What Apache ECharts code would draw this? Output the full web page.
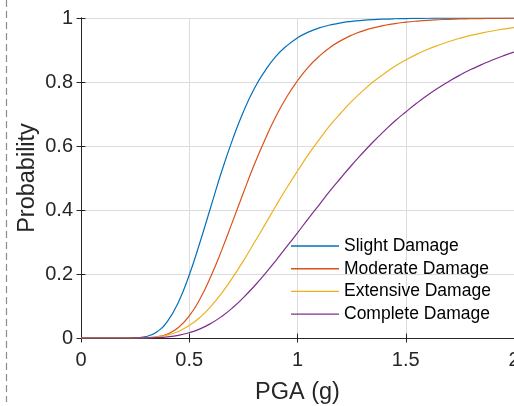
<!DOCTYPE html>
<html>
<head>
<meta charset="utf-8">
<script src="https://cdn.jsdelivr.net/npm/echarts@6/dist/echarts.min.js"></script>
<style>
html,body{margin:0;padding:0;background:#fff;}
#chart{width:514px;height:406px;}
</style>
</head>
<body>
<div id="chart"></div>
<script>
// PGA (g) sample points
var pga = [0,0.05,0.1,0.15,0.2,0.25,0.3,0.35,0.4,0.45,0.5,0.55,0.6,0.65,0.7,0.75,0.8,0.85,0.9,0.95,1.0,
           1.05,1.1,1.15,1.2,1.25,1.3,1.35,1.4,1.45,1.5,1.55,1.6,1.65,1.7,1.75,1.8,1.85,1.9,1.95,2.0];
var slight = [0,0,0,0,0,0.0006,0.0045,0.0189,0.0528,0.112,0.197,0.300,0.411,0.521,0.620,0.707,0.779,0.835,0.880,0.913,0.938,
              0.956,0.969,0.978,0.985,0.9895,0.9926,0.9949,0.9965,0.9976,0.9983,0.9988,0.9992,0.9994,0.9996,0.9997,0.9998,0.9999,0.9999,1.0,1.0];
var moderate = [0,0,0,0,0,0.0001,0.0007,0.0036,0.0127,0.0329,0.069,0.1227,0.1927,0.2746,0.3637,0.4539,0.5414,0.6205,0.6922,0.7532,0.8039,
                0.8466,0.8804,0.908,0.9293,0.9462,0.9591,0.9691,0.9767,0.9827,0.9869,0.9902,0.9928,0.9946,0.996,0.997,0.9977,0.9983,0.9988,0.9991,0.9993];
var extensive = [0,0,0,0,0,0.0002,0.0009,0.0034,0.0093,0.0205,0.0387,0.0646,0.0988,0.1405,0.1885,0.2411,0.2976,0.3544,0.4126,0.4686,0.5219,
                 0.573,0.6198,0.6641,0.7031,0.7393,0.7715,0.8006,0.8258,0.8491,0.8686,0.8864,0.9017,0.915,0.9266,0.9367,0.9455,0.9527,0.9593,0.965,0.9698];
var complete = [0,0,0,0,0,0.0001,0.0004,0.0013,0.0037,0.0084,0.0165,0.0286,0.0456,0.0675,0.0944,0.1262,0.1617,0.2005,0.2420,0.2852,0.3287,
                0.3731,0.4161,0.4594,0.5,0.5398,0.5773,0.6133,0.6464,0.6781,0.7065,0.7335,0.7586,0.7815,0.8023,0.8215,0.8388,0.8542,0.8688,0.8818,0.8933];
var seriesNames = ['Slight Damage','Moderate Damage','Extensive Damage','Complete Damage'];
var seriesColors = ['#0072BD','#D95319','#EDB120','#7E2F8E'];
var seriesValues = [slight, moderate, extensive, complete];

var FONT = '"Liberation Sans", Arial, Helvetica, sans-serif';
var chart = echarts.init(document.getElementById('chart'), null, {renderer:'canvas'});

function pairs(arr){ return pga.map(function(x,i){ return [x, arr[i]]; }); }

var axisLineStyle = {color:'#262626', width:1};
var series = seriesNames.map(function(n,i){
  return {
    name:n, type:'line', xAxisIndex:0, yAxisIndex:0,
    data:pairs(seriesValues[i]), smooth:true, symbol:'none', showSymbol:false,
    lineStyle:{color:seriesColors[i], width:1.2}, itemStyle:{color:seriesColors[i]},
    animation:false, z:3
  };
});

chart.setOption({
  animation:false,
  backgroundColor:'#ffffff',
  textStyle:{fontFamily:FONT},
  grid:{left:81, top:18, width:433, height:320, containLabel:false, outerBoundsMode:'none'},
  graphic:[{
    type:'line', shape:{x1:6.5, y1:0, x2:6.5, y2:402},
    style:{stroke:'#8c8c8c', lineWidth:1.2, lineDash:[7,4]}
  }],
  legend:{
    orient:'vertical', left:291, top:237, padding:0, itemGap:4.7,
    itemWidth:48, itemHeight:1.4, icon:'rect',
    data:seriesNames,
    textStyle:{fontFamily:FONT, fontSize:17.5, color:'#000', lineHeight:18}
  },
  xAxis:[{
    type:'value', min:0, max:2, interval:0.5, position:'bottom',
    name:'PGA (g)', nameLocation:'middle', nameGap:43, nameMoveOverlap:false,
    nameTextStyle:{fontFamily:FONT, fontSize:23.5, color:'#262626'},
    axisLine:{show:true, lineStyle:axisLineStyle},
    axisTick:{show:true, inside:true, length:4.5, lineStyle:axisLineStyle},
    axisLabel:{fontFamily:FONT, fontSize:20, color:'#262626', margin:12, showMaxLabel:true},
    splitLine:{show:true, lineStyle:{color:'#dcdcdc', width:1}}
  },{
    type:'value', min:0, max:2, interval:0.5, position:'top',
    axisLine:{show:true, lineStyle:axisLineStyle},
    axisTick:{show:true, inside:true, length:4.5, lineStyle:axisLineStyle},
    axisLabel:{show:false}, splitLine:{show:false}
  }],
  yAxis:[{
    type:'value', min:0, max:1, interval:0.2, position:'left',
    name:'Probability', nameLocation:'middle', nameGap:41, nameMoveOverlap:false,
    nameTextStyle:{fontFamily:FONT, fontSize:23.5, color:'#262626'},
    axisLine:{show:true, lineStyle:axisLineStyle},
    axisTick:{show:true, inside:true, length:4.5, lineStyle:axisLineStyle},
    axisLabel:{fontFamily:FONT, fontSize:20, color:'#262626', margin:8},
    splitLine:{show:true, lineStyle:{color:'#dcdcdc', width:1}}
  },{
    type:'value', min:0, max:1, interval:0.2, position:'right',
    axisLine:{show:true, lineStyle:axisLineStyle},
    axisTick:{show:true, inside:true, length:4.5, lineStyle:axisLineStyle},
    axisLabel:{show:false}, splitLine:{show:false}
  }],
  series:series
});
</script>
</body>
</html>
